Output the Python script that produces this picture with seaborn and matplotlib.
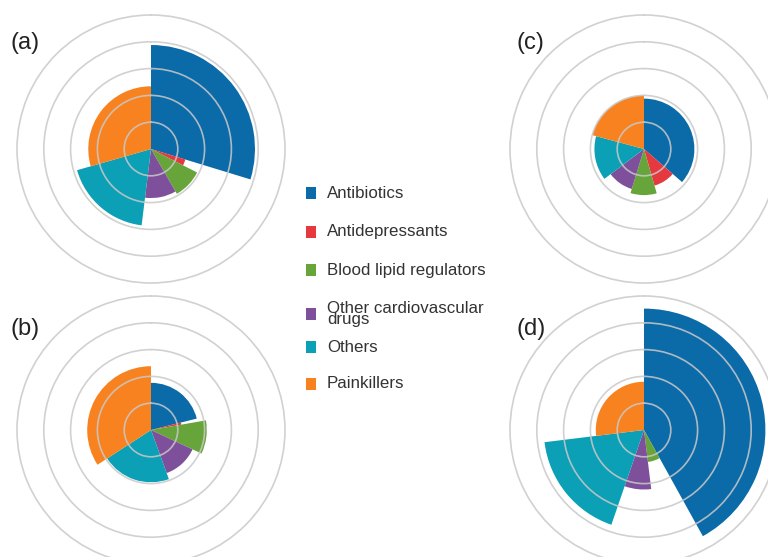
import numpy as np
import matplotlib.pyplot as plt
import seaborn as sns
from matplotlib.patches import Rectangle

# ============================================
# DATA
# ============================================
categories = ["Antibiotics", "Antidepressants", "Blood lipid regulators",
              "Other cardiovascular\ndrugs", "Others", "Painkillers"]
colors = ["#0b6aa8", "#e5383f", "#67a53b", "#7e509b", "#0ba0b5", "#f8821f"]

panel_labels = ["(a)", "(b)", "(c)", "(d)"]

# angular share of each wedge (degrees, clockwise from 12 o'clock)
angles_a = [107, 10, 33, 37, 67, 106]
angles_b = [76, 4, 35, 45, 77, 123]
angles_c = [131, 33, 33, 36, 52, 75]
angles_d = [151, 0, 22, 26, 64, 97]

# radial length of each wedge (grid units, 5 rings)
radii_a = [3.88, 1.34, 1.93, 1.83, 2.87, 2.34]
radii_b = [1.76, 1.15, 2.08, 1.71, 1.95, 2.38]
radii_c = [1.88, 1.42, 1.72, 1.56, 1.85, 2.0]
radii_d = [4.53, 0.0, 1.2, 2.22, 3.74, 1.8]

# ============================================
# STYLE
# ============================================
sns.set_theme(style="white")
plt.rcParams["font.family"] = ["Liberation Sans", "DejaVu Sans"]

W, H = 768, 557
fig = plt.figure(figsize=(W / 100, H / 100), dpi=100)

RMAX = 5.1          # a bit beyond the outer ring so it is not clipped
R_PX = 134 * RMAX / 5
centers = [(151, 149), (151, 430), (644, 149), (644, 430)]
label_pos = [(11, 43), (11, 329), (517, 43), (517, 329)]

panels = list(zip(panel_labels, [angles_a, angles_b, angles_c, angles_d],
                  [radii_a, radii_b, radii_c, radii_d]))

for (lab, ang, rad), (cx, cy), (lx, ly) in zip(panels, centers, label_pos):
    rect = [(cx - R_PX) / W, (H - cy - R_PX) / H, 2 * R_PX / W, 2 * R_PX / H]
    ax = fig.add_axes(rect, projection="polar")
    ax.set_theta_zero_location("N")
    ax.set_theta_direction(-1)

    widths = np.deg2rad(ang)
    starts = np.concatenate([[0], np.cumsum(widths)[:-1]])
    ax.bar(starts, rad, width=widths, align="edge", color=colors,
           edgecolor="none", linewidth=0, zorder=1)

    ax.set_ylim(0, RMAX)
    ax.set_yticks([1, 2, 3, 4, 5])
    ax.set_yticklabels([])
    ax.set_xticks([])
    ax.set_axisbelow(False)
    ax.grid(True, axis="y", color="#c9c9c9", linewidth=1.2, alpha=0.85)
    ax.spines["polar"].set_visible(False)
    ax.set_facecolor("none")

    fig.text(lx / W, 1 - ly / H, lab, fontsize=17, color="#222222",
             ha="left", va="center")

# legend drawn by hand so the two-line entry sits like in the original
legend_y = [193, 232, 270, 314, 347, 384]
for name, c, y in zip(categories, colors, legend_y):
    fig.patches.append(Rectangle(((306) / W, 1 - (y + 6) / H), 10 / W, 12 / H,
                                 transform=fig.transFigure, facecolor=c,
                                 edgecolor="none"))
    fig.text(327 / W, 1 - y / H, name, fontsize=12.2, color="#333333",
             ha="left", va="center", linespacing=0.72)

plt.savefig("out.png", dpi=100)
plt.close()
